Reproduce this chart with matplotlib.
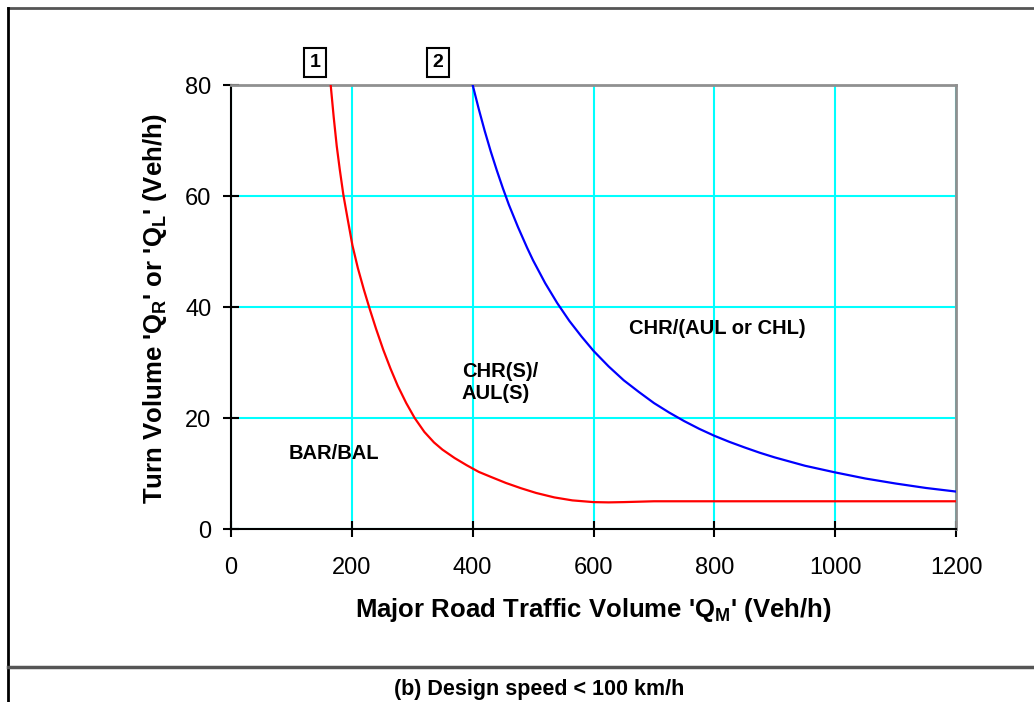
import matplotlib
matplotlib.use("Agg")
import matplotlib.pyplot as plt
from matplotlib.lines import Line2D

plt.rcParams['font.family'] = ['Liberation Sans', 'DejaVu Sans']
plt.rcParams['mathtext.fontset'] = 'custom'
plt.rcParams['mathtext.rm'] = 'Liberation Sans'
plt.rcParams['mathtext.bf'] = 'Liberation Sans:bold'

# ============================================
# DATA
# ============================================
# Curve 1 (red): BAR/BAL vs CHR(S)/AUL(S)
curve1_x = [165, 170, 175, 180, 186, 193, 201, 210, 220, 230, 240, 252, 264, 276, 290, 304,
            320, 336, 350, 370, 390, 410, 430, 455, 480, 505, 535, 565, 600, 625, 650, 700, 1200]
curve1_y = [80, 74.2, 69.0, 64.8, 60.2, 55.9, 51.1, 47.0, 43.1, 39.5, 36.1, 32.3, 28.9, 25.8, 22.7, 20.0,
            17.5, 15.6, 14.3, 12.8, 11.5, 10.3, 9.4, 8.3, 7.35, 6.5, 5.7, 5.16, 4.85, 4.8, 4.85, 5.0, 5.0]

# Curve 2 (blue): CHR(S)/AUL(S) vs CHR/(AUL or CHL)
curve2_x = [400, 410, 420, 430, 440, 450, 460, 475, 490, 500, 520, 540, 560, 580, 600,
            625, 650, 675, 700, 725, 750, 775, 800, 825, 850, 875, 900, 950, 1000, 1050, 1100, 1150, 1200]
curve2_y = [80, 75.7, 71.7, 68.0, 64.6, 61.4, 58.4, 54.4, 50.7, 48.4, 44.3, 40.7, 37.5, 34.7, 32.1,
            29.3, 26.8, 24.7, 22.7, 21.0, 19.45, 18.05, 16.8, 15.7, 14.7, 13.75, 12.9, 11.4, 10.2, 9.1,
            8.2, 7.4, 6.75]

x_ticks = [0, 200, 400, 600, 800, 1000, 1200]
y_ticks = [0, 20, 40, 60, 80]

region_labels = ["BAR/BAL", "CHR(S)/\nAUL(S)", "CHR/(AUL or CHL)"]
region_x = [170, 382, 805]
region_y = [13.6, 26.4, 36.1]

curve_ids = ["1", "2"]
curve_id_x = [139, 343]

# ============================================
# FIGURE
# ============================================
fig = plt.figure(figsize=(10.34, 7.02), dpi=100)
ax = fig.add_axes([0.2234, 0.2464, 0.7012, 0.6325])

ax.plot(curve1_x, curve1_y, color='#FF0000', linewidth=1.6, zorder=3)
ax.plot(curve2_x, curve2_y, color='#0000FF', linewidth=1.6, zorder=3)

ax.set_xlim(0, 1200)
ax.set_ylim(0, 80)
ax.set_xticks(x_ticks)
ax.set_yticks(y_ticks)
ax.grid(True, color='#00FFFF', linewidth=1.5, zorder=1)
ax.set_axisbelow(True)

ax.spines['top'].set_color('#909090')
ax.spines['right'].set_color('#909090')
ax.spines['top'].set_linewidth(2)
ax.spines['right'].set_linewidth(2)
ax.spines['left'].set_linewidth(1.5)
ax.spines['bottom'].set_linewidth(1.5)
ax.tick_params(direction='inout', length=12, width=1.5, labelsize=17)
ax.tick_params(axis='x', pad=14)
ax.tick_params(axis='y', pad=8)

# axis titles placed directly in axes fraction
ax.text(0.5, -0.182, "Major Road Traffic Volume 'Q$_\\mathbf{M}$' (Veh/h)",
        transform=ax.transAxes, fontsize=18.5, fontweight='bold', ha='center', va='center')
ax.text(-0.105, 0.495, "Turn Volume 'Q$_\\mathbf{R}$' or 'Q$_\\mathbf{L}$' (Veh/h)",
        transform=ax.transAxes, fontsize=18.5, fontweight='bold', ha='center', va='center',
        rotation=90)

for label, lx, ly in zip(region_labels, region_x, region_y):
    ha = 'left' if label.startswith("CHR(S)") else 'center'
    ax.text(lx, ly, label, fontsize=14.5, fontweight='bold', ha=ha, va='center',
            linespacing=1.25, zorder=4)

for cid, cx in zip(curve_ids, curve_id_x):
    ax.text(cx, 84.1, cid, fontsize=14, fontweight='bold', ha='center', va='center',
            clip_on=False,
            bbox=dict(boxstyle='square,pad=0.3', facecolor='white', edgecolor='black', linewidth=1.5))

# outer frame of the figure panel
fig.add_artist(Line2D([8 / 1034, 1], [1 - 8 / 702, 1 - 8 / 702], color='#555555', linewidth=2))
fig.add_artist(Line2D([8 / 1034, 8 / 1034], [0, 1 - 8 / 702], color='black', linewidth=2))
fig.add_artist(Line2D([8 / 1034, 1], [1 - 667 / 702, 1 - 667 / 702], color='#555555', linewidth=2.5))

fig.text(539 / 1034, 1 - 689 / 702, "(b) Design speed < 100 km/h", fontsize=15.5,
         fontweight='bold', ha='center', va='center')

fig.savefig("out.png", dpi=100)
